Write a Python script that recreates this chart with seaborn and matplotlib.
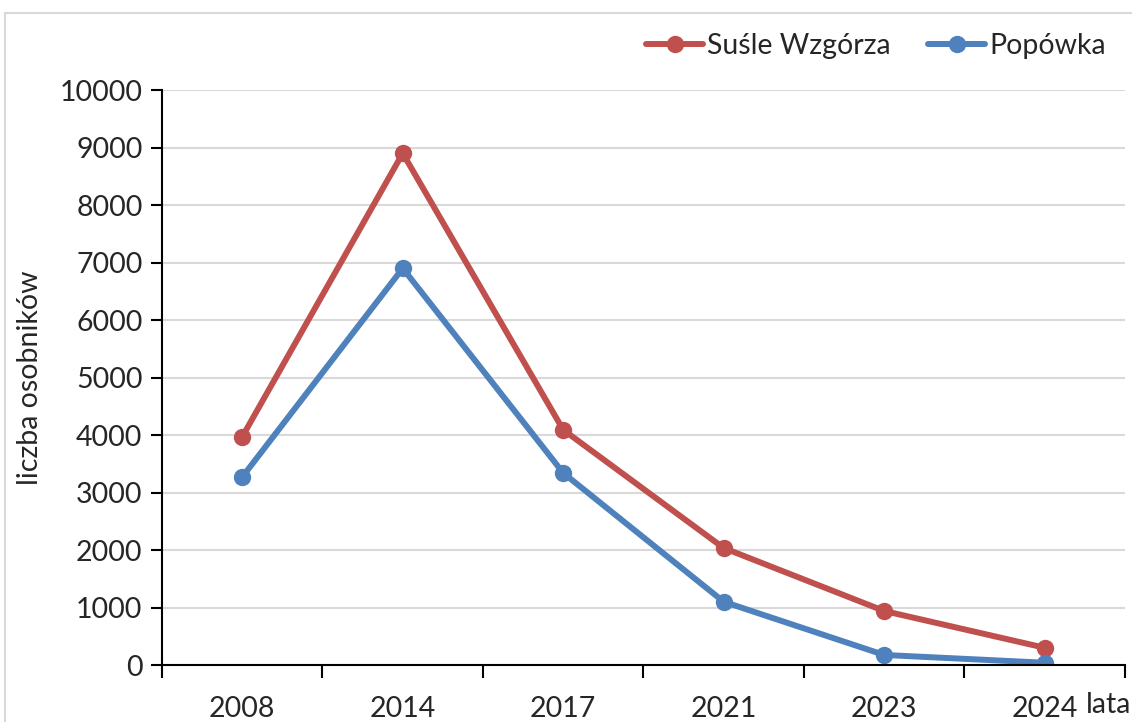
import numpy as np
import pandas as pd
import matplotlib
matplotlib.use("Agg")
import matplotlib.pyplot as plt
import seaborn as sns
from matplotlib.patches import Rectangle

# data
years   = ["2008", "2014", "2017", "2021", "2023", "2024"]
susle   = [3970, 8900, 4090, 2035, 940, 300]
popowka = [3270, 6900, 3340, 1100, 175, 40]
series  = ["Suśle Wzgórza", "Popówka"]
colors  = ["#C0504D", "#4F81BD"]

df = pd.DataFrame({
    "rok":   years * 2,
    "liczba": susle + popowka,
    "seria": [series[0]] * len(years) + [series[1]] * len(years),
})

sns.set_theme(style="white")
plt.rcParams["font.family"] = ["Lato", "DejaVu Sans"]
FS = 20.5

fig = plt.figure(figsize=(11.32, 7.22), dpi=100)
ax = fig.add_axes([0.1431, 0.0789, 0.8507, 0.7964])

sns.lineplot(data=df, x="rok", y="liczba", hue="seria", palette=colors,
             marker="o", markersize=12.5, markeredgewidth=0, linewidth=4.3,
             sort=False, ax=ax)

ax.set_ylim(0, 10000)
ax.set_yticks(np.arange(0, 10001, 1000))
ax.set_xlim(-0.5, len(years) - 0.5)
ax.set_xticks(range(len(years)))
ax.set_xticklabels(years)
ax.set_xticks(np.arange(-0.5, len(years), 1.0), minor=True)
ax.tick_params(axis="x", which="major", length=0, pad=22, labelsize=FS)
ax.tick_params(axis="x", which="minor", length=9, width=1.5, color="black",
               direction="out", bottom=True)
ax.tick_params(axis="y", length=8, width=1.5, color="black", direction="out",
               left=True, pad=6, labelsize=FS)
ax.yaxis.grid(True, color="#d9d9d9", linewidth=1.5)
ax.set_axisbelow(True)

for s in ("top", "right"):
    ax.spines[s].set_visible(False)
for s in ("left", "bottom"):
    ax.spines[s].set_color("black")
    ax.spines[s].set_linewidth(1.5)

ax.set_xlabel("")
ax.set_ylabel("liczba osobników", fontsize=FS, labelpad=12)
fig.text(0.959, 0.023, "lata", fontsize=FS, ha="left", va="center")

ax.legend(loc="lower right", bbox_to_anchor=(0.992, 1.035), ncol=2, frameon=False,
          fontsize=FS, handlelength=2.0, handletextpad=0.15, columnspacing=1.3,
          borderaxespad=0)

# chart frame like the spreadsheet export
fig.patches.append(Rectangle((0.004, -0.01), 1.1, 0.992, transform=fig.transFigure,
                             fill=False, edgecolor="#d9d9d9", linewidth=1.5))

fig.savefig("out.png", dpi=100)
